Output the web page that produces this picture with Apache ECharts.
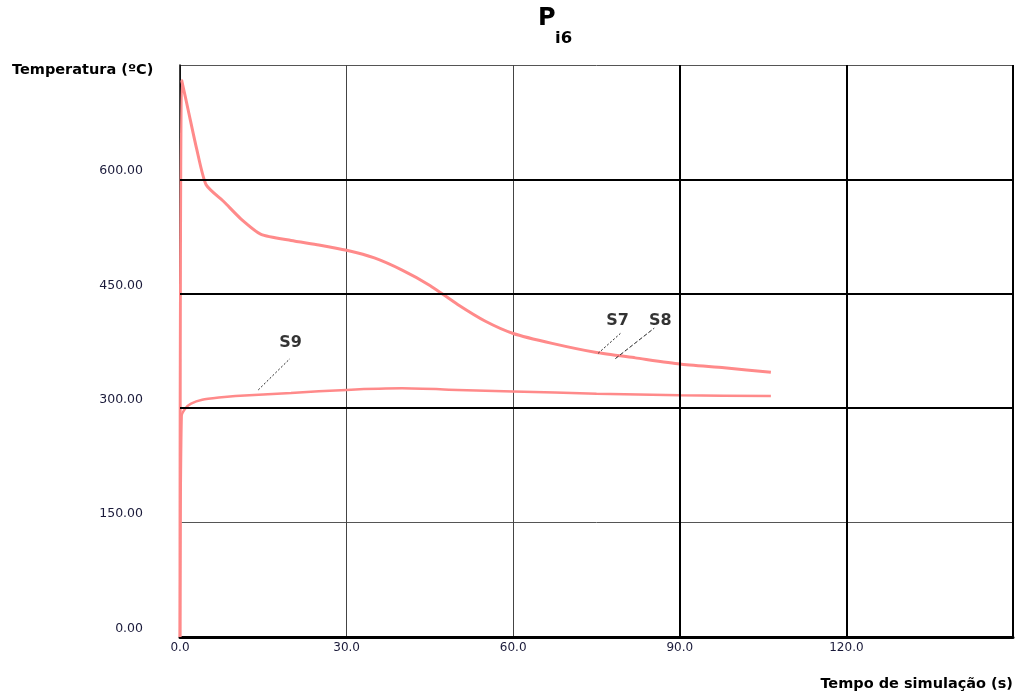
<!DOCTYPE html>
<html><head><meta charset="utf-8">
<script src="https://cdn.jsdelivr.net/npm/echarts@6/dist/echarts.min.js"></script>
<style>html,body{margin:0;padding:0;background:#fff}#c{width:1018px;height:695px}</style>
</head><body><div id="c"></div>
<script>
// Upper curve (S7/S8) [time s, temperature ºC]
const upperTime = [0, 0.3, 1.5, 3, 4.7, 8, 11, 14.6, 20, 25, 30, 35, 40, 45, 50, 55, 60, 67, 75, 82, 90, 98, 106.4];
const upperTemp = [0, 730, 690, 640, 593, 570, 548, 528, 520, 514, 507, 497, 481, 461, 436, 414, 398, 385, 373, 366, 358, 353, 347];
// Lower curve (S9)
const lowerTime = [0, 0.3, 1, 2, 4, 7, 10, 15, 20, 30, 40, 50, 60, 75, 90, 106.4];
const lowerTemp = [0, 290, 300, 306, 311, 314, 316, 318, 320, 324, 326, 324, 322, 319, 317, 316];
// Gray marker segment at t = 90 s between the curves
const markerTime = [90, 90];
const markerTemp = [357, 318];
// Annotations: label text, leader start [t,T], leader end [t,T], label pos [t,T]
const labelNames = ['S7', 'S8', 'S9'];
const leaderFrom = [[75.3, 372], [78.4, 365], [14.1, 324]];
const leaderTo = [[79.3, 398], [85.4, 405], [19.8, 365]];
const labelPos = [[78.8, 414], [86.5, 414], [19.9, 386]];
const thickY = [300, 450, 600];
const thickX = [90, 120, 150];

const pair = (a, b) => a.map((v, i) => [v, b[i]]);
const red = '#ff8a8a';
const tickFont = "'DejaVu Sans', Verdana, sans-serif";

const leaderSeries = labelNames.map((n, i) => ({
  type: 'line', data: [leaderFrom[i], leaderTo[i]], symbol: 'none', silent: true,
  lineStyle: { color: '#222', width: 1, type: i === 1 ? [4, 2] : [2, 2] }, z: 5
}));

const chart = echarts.init(document.getElementById('c'));
chart.setOption({
  animation: false,
  backgroundColor: '#fff',
  graphic: [
    { type: 'text', left: 538, top: 7, style: { text: 'P', font: "bold 24px 'DejaVu Sans'", fill: '#000' } },
    { type: 'text', left: 555, top: 30, style: { text: 'i6', font: "bold 16.5px 'DejaVu Sans'", fill: '#000' } },
    { type: 'text', left: 12, top: 63, style: { text: 'Temperatura (ºC)', font: "bold 14.5px 'DejaVu Sans'", fill: '#000' } },
    { type: 'text', right: 5, top: 677, style: { text: 'Tempo de simulação (s)', font: "bold 14.5px 'DejaVu Sans'", fill: '#000' } }
  ],
  grid: { left: 180, right: 5, top: 65, bottom: 58 },
  xAxis: {
    type: 'value', min: 0, max: 150, interval: 30,
    axisLine: { show: true, onZero: false, lineStyle: { color: '#000', width: 3 } },
    axisTick: { show: false },
    axisLabel: { color: '#1a1a3a', fontFamily: tickFont, fontSize: 12, margin: 5,
      formatter: v => (v >= 150 ? '' : v.toFixed(1)) },
    splitLine: { show: true, lineStyle: { color: '#444', width: 1 } }
  },
  yAxis: {
    type: 'value', min: 0, max: 750, interval: 150,
    axisLine: { show: true, onZero: false, lineStyle: { color: '#000', width: 1.5 } },
    axisTick: { show: false },
    axisLabel: { color: '#1a1a3a', fontFamily: tickFont, fontSize: 12.5, margin: 37,
      verticalAlign: 'bottom', padding: [0, 0, 2, 0],
      formatter: v => (v >= 750 ? '' : v.toFixed(2)) },
    splitLine: { show: true, lineStyle: { color: '#555', width: 1 } }
  },
  series: [
    {
      type: 'line', data: [], silent: true, symbol: 'none',
      markLine: { silent: true, symbol: 'none', label: { show: false },
        lineStyle: { color: '#000', width: 2, type: 'solid' },
        data: thickY.map(v => ({ yAxis: v })).concat(thickX.map(v => ({ xAxis: v }))) }
    },
    { type: 'line', data: pair(markerTime, markerTemp), symbol: 'none', silent: true,
      lineStyle: { color: '#c8c8c8', width: 2 }, z: 3 },
    { name: 'S7/S8', type: 'line', data: pair(upperTime, upperTemp), symbol: 'none', smooth: 0.2,
      lineStyle: { color: red, width: 3 }, z: 4 },
    { name: 'S9', type: 'line', data: pair(lowerTime, lowerTemp), symbol: 'none', smooth: 0.2,
      lineStyle: { color: red, width: 2.5 }, z: 4 },
    ...leaderSeries,
    {
      type: 'scatter', symbolSize: 0, silent: true,
      data: labelNames.map((n, i) => ({ value: labelPos[i], name: n })),
      label: { show: true, position: 'inside', formatter: p => p.name,
        fontFamily: 'DejaVu Sans', fontWeight: 'bold', fontSize: 16, color: '#000' }
    }
  ]
});
</script></body></html>
